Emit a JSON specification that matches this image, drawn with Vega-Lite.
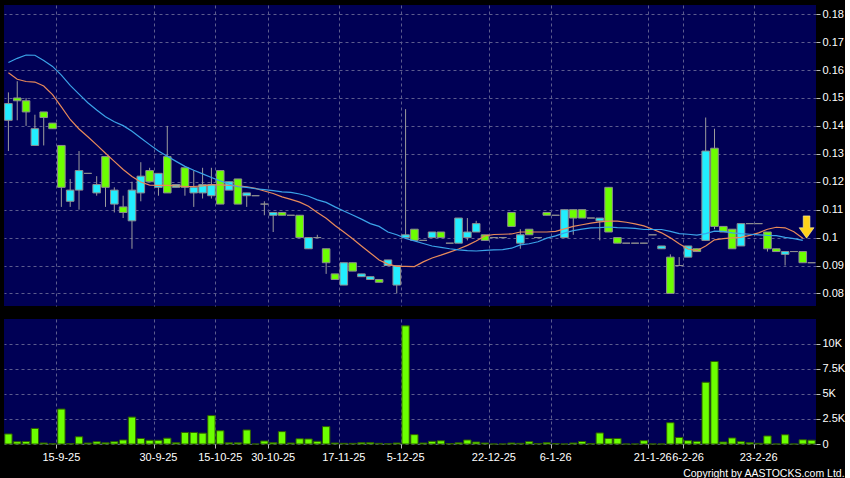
{
  "$schema": "https://vega.github.io/schema/vega-lite/v6.json",
  "background": "#000000",
  "padding": {"left": 4, "top": 5, "right": 0, "bottom": 0},
  "config": {
    "view": {"fill": "#000055", "stroke": null},
    "axis": {"labelFont": "Liberation Sans", "labelFontSize": 11, "labelColor": "#ffffff", "gridColor": "#5c5c8e", "gridDash": [3, 3], "gridWidth": 1, "domain": false, "tickColor": "#bbbbbb", "title": null, "labelOverlap": false}
  },
  "title": {"text": "Copyright by AASTOCKS.com Ltd.", "orient": "bottom", "anchor": "end", "frame": "bounds", "color": "#ffffff", "font": "Liberation Sans", "fontSize": 10.5, "fontWeight": "normal", "offset": 7},
  "data": {"values": [
    {"i":0,"d":"5-9-25","o":0.142,"h":0.152,"l":0.131,"c":0.148,"v":1000,"m1":0.1590,"m2":0.1627},
    {"i":1,"d":"8-9-25","o":0.150,"h":0.156,"l":0.142,"c":0.149,"v":233,"m1":0.1567,"m2":0.1642},
    {"i":2,"d":"9-9-25","o":0.149,"h":0.150,"l":0.140,"c":0.145,"v":250,"m1":0.1559,"m2":0.1654},
    {"i":3,"d":"10-9-25","o":0.133,"h":0.144,"l":0.133,"c":0.139,"v":1550,"m1":0.1557,"m2":0.1653},
    {"i":4,"d":"11-9-25","o":0.145,"h":0.145,"l":0.133,"c":0.143,"v":100,"m1":0.1543,"m2":0.1634},
    {"i":5,"d":"12-9-25","o":0.141,"h":0.141,"l":0.139,"c":0.139,"v":20,"m1":0.1512,"m2":0.1613},
    {"i":6,"d":"15-9-25","o":0.133,"h":0.133,"l":0.111,"c":0.118,"v":3480,"m1":0.1468,"m2":0.1582},
    {"i":7,"d":"16-9-25","o":0.113,"h":0.121,"l":0.111,"c":0.117,"v":30,"m1":0.1423,"m2":0.1545},
    {"i":8,"d":"17-9-25","o":0.117,"h":0.131,"l":0.110,"c":0.124,"v":720,"m1":0.1389,"m2":0.1514},
    {"i":9,"d":"18-9-25","o":0.123,"h":0.123,"l":0.123,"c":0.123,"v":100,"m1":0.1361,"m2":0.1483},
    {"i":10,"d":"19-9-25","o":0.116,"h":0.122,"l":0.115,"c":0.119,"v":233,"m1":0.1332,"m2":0.1457},
    {"i":11,"d":"22-9-25","o":0.129,"h":0.129,"l":0.111,"c":0.118,"v":120,"m1":0.1302,"m2":0.1433},
    {"i":12,"d":"23-9-25","o":0.112,"h":0.118,"l":0.109,"c":0.117,"v":233,"m1":0.1273,"m2":0.1415},
    {"i":13,"d":"24-9-25","o":0.111,"h":0.115,"l":0.107,"c":0.109,"v":400,"m1":0.1244,"m2":0.1401},
    {"i":14,"d":"25-9-25","o":0.106,"h":0.120,"l":0.096,"c":0.117,"v":2680,"m1":0.1219,"m2":0.1381},
    {"i":15,"d":"26-9-25","o":0.116,"h":0.127,"l":0.113,"c":0.122,"v":550,"m1":0.1199,"m2":0.1357},
    {"i":16,"d":"29-9-25","o":0.124,"h":0.125,"l":0.120,"c":0.120,"v":370,"m1":0.1188,"m2":0.1333},
    {"i":17,"d":"30-9-25","o":0.118,"h":0.123,"l":0.115,"c":0.123,"v":370,"m1":0.1187,"m2":0.1310},
    {"i":18,"d":"2-10-25","o":0.129,"h":0.140,"l":0.116,"c":0.116,"v":580,"m1":0.1187,"m2":0.1291},
    {"i":19,"d":"3-10-25","o":0.118,"h":0.119,"l":0.118,"c":0.119,"v":130,"m1":0.1185,"m2":0.1273},
    {"i":20,"d":"6-10-25","o":0.125,"h":0.125,"l":0.115,"c":0.118,"v":1150,"m1":0.1183,"m2":0.1255},
    {"i":21,"d":"8-10-25","o":0.116,"h":0.124,"l":0.111,"c":0.118,"v":1150,"m1":0.1183,"m2":0.1241},
    {"i":22,"d":"9-10-25","o":0.116,"h":0.125,"l":0.114,"c":0.119,"v":1080,"m1":0.1185,"m2":0.1228},
    {"i":23,"d":"13-10-25","o":0.115,"h":0.125,"l":0.114,"c":0.119,"v":2830,"m1":0.1189,"m2":0.1215},
    {"i":24,"d":"15-10-25","o":0.124,"h":0.124,"l":0.112,"c":0.112,"v":1320,"m1":0.1189,"m2":0.1203},
    {"i":25,"d":"17-10-25","o":0.117,"h":0.120,"l":0.117,"c":0.120,"v":120,"m1":0.1187,"m2":0.1192},
    {"i":26,"d":"20-10-25","o":0.121,"h":0.121,"l":0.112,"c":0.112,"v":120,"m1":0.1185,"m2":0.1182},
    {"i":27,"d":"22-10-25","o":0.115,"h":0.116,"l":0.111,"c":0.116,"v":1400,"m1":0.1182,"m2":0.1180},
    {"i":28,"d":"24-10-25","o":0.115,"h":0.115,"l":0.115,"c":0.115,"v":0,"m1":0.1176,"m2":0.1175},
    {"i":29,"d":"28-10-25","o":0.112,"h":0.113,"l":0.108,"c":0.112,"v":300,"m1":0.1167,"m2":0.1172},
    {"i":30,"d":"30-10-25","o":0.108,"h":0.109,"l":0.102,"c":0.109,"v":130,"m1":0.1158,"m2":0.1168},
    {"i":31,"d":"31-10-25","o":0.109,"h":0.109,"l":0.108,"c":0.108,"v":1233,"m1":0.1146,"m2":0.1164},
    {"i":32,"d":"3-11-25","o":0.108,"h":0.108,"l":0.108,"c":0.108,"v":100,"m1":0.1137,"m2":0.1162},
    {"i":33,"d":"5-11-25","o":0.108,"h":0.108,"l":0.100,"c":0.100,"v":520,"m1":0.1127,"m2":0.1156},
    {"i":34,"d":"7-11-25","o":0.096,"h":0.100,"l":0.096,"c":0.100,"v":500,"m1":0.1112,"m2":0.1148},
    {"i":35,"d":"10-11-25","o":0.100,"h":0.101,"l":0.100,"c":0.100,"v":267,"m1":0.1090,"m2":0.1135},
    {"i":36,"d":"12-11-25","o":0.096,"h":0.096,"l":0.087,"c":0.091,"v":1733,"m1":0.1069,"m2":0.1126},
    {"i":37,"d":"14-11-25","o":0.087,"h":0.087,"l":0.085,"c":0.085,"v":100,"m1":0.1043,"m2":0.1110},
    {"i":38,"d":"17-11-25","o":0.083,"h":0.091,"l":0.083,"c":0.091,"v":67,"m1":0.1020,"m2":0.1095},
    {"i":39,"d":"19-11-25","o":0.091,"h":0.091,"l":0.088,"c":0.088,"v":67,"m1":0.0996,"m2":0.1081},
    {"i":40,"d":"21-11-25","o":0.086,"h":0.087,"l":0.086,"c":0.087,"v":133,"m1":0.0970,"m2":0.1066},
    {"i":41,"d":"25-11-25","o":0.085,"h":0.086,"l":0.085,"c":0.086,"v":133,"m1":0.0945,"m2":0.1050},
    {"i":42,"d":"27-11-25","o":0.085,"h":0.085,"l":0.084,"c":0.084,"v":67,"m1":0.0920,"m2":0.1040},
    {"i":43,"d":"1-12-25","o":0.090,"h":0.092,"l":0.090,"c":0.092,"v":20,"m1":0.0905,"m2":0.1020},
    {"i":44,"d":"3-12-25","o":0.083,"h":0.090,"l":0.080,"c":0.090,"v":100,"m1":0.0897,"m2":0.1010},
    {"i":45,"d":"5-12-25","o":0.100,"h":0.146,"l":0.100,"c":0.101,"v":11767,"m1":0.0897,"m2":0.0997},
    {"i":46,"d":"8-12-25","o":0.103,"h":0.103,"l":0.099,"c":0.099,"v":933,"m1":0.0896,"m2":0.0988},
    {"i":47,"d":"9-12-25","o":0.099,"h":0.099,"l":0.099,"c":0.099,"v":100,"m1":0.0913,"m2":0.0979},
    {"i":48,"d":"10-12-25","o":0.100,"h":0.102,"l":0.100,"c":0.102,"v":267,"m1":0.0927,"m2":0.0970},
    {"i":49,"d":"11-12-25","o":0.102,"h":0.102,"l":0.100,"c":0.100,"v":320,"m1":0.0937,"m2":0.0965},
    {"i":50,"d":"12-12-25","o":0.098,"h":0.098,"l":0.098,"c":0.098,"v":50,"m1":0.0948,"m2":0.0960},
    {"i":51,"d":"15-12-25","o":0.098,"h":0.107,"l":0.098,"c":0.107,"v":120,"m1":0.0959,"m2":0.0956},
    {"i":52,"d":"16-12-25","o":0.100,"h":0.107,"l":0.099,"c":0.102,"v":400,"m1":0.0972,"m2":0.0953},
    {"i":53,"d":"17-12-25","o":0.102,"h":0.106,"l":0.102,"c":0.105,"v":200,"m1":0.0988,"m2":0.0952},
    {"i":54,"d":"19-12-25","o":0.101,"h":0.101,"l":0.099,"c":0.099,"v":100,"m1":0.1006,"m2":0.0954},
    {"i":55,"d":"22-12-25","o":0.100,"h":0.100,"l":0.100,"c":0.100,"v":0,"m1":0.1011,"m2":0.0956},
    {"i":56,"d":"23-12-25","o":0.100,"h":0.100,"l":0.100,"c":0.100,"v":0,"m1":0.1012,"m2":0.0957},
    {"i":57,"d":"24-12-25","o":0.109,"h":0.109,"l":0.104,"c":0.104,"v":100,"m1":0.1013,"m2":0.0962},
    {"i":58,"d":"29-12-25","o":0.098,"h":0.103,"l":0.096,"c":0.101,"v":67,"m1":0.1020,"m2":0.0974},
    {"i":59,"d":"30-12-25","o":0.103,"h":0.103,"l":0.101,"c":0.101,"v":233,"m1":0.1020,"m2":0.0978},
    {"i":60,"d":"31-12-25","o":0.100,"h":0.100,"l":0.100,"c":0.100,"v":50,"m1":0.1020,"m2":0.0985},
    {"i":61,"d":"2-1-26","o":0.109,"h":0.109,"l":0.108,"c":0.108,"v":133,"m1":0.1020,"m2":0.0998},
    {"i":62,"d":"6-1-26","o":0.108,"h":0.108,"l":0.108,"c":0.108,"v":50,"m1":0.1022,"m2":0.1006},
    {"i":63,"d":"7-1-26","o":0.100,"h":0.110,"l":0.100,"c":0.110,"v":0,"m1":0.1031,"m2":0.1017},
    {"i":64,"d":"8-1-26","o":0.110,"h":0.110,"l":0.101,"c":0.107,"v":100,"m1":0.1040,"m2":0.1025},
    {"i":65,"d":"9-1-26","o":0.110,"h":0.110,"l":0.107,"c":0.107,"v":250,"m1":0.1046,"m2":0.1030},
    {"i":66,"d":"12-1-26","o":0.107,"h":0.107,"l":0.107,"c":0.107,"v":33,"m1":0.1052,"m2":0.1035},
    {"i":67,"d":"13-1-26","o":0.106,"h":0.107,"l":0.099,"c":0.107,"v":1100,"m1":0.1056,"m2":0.1036},
    {"i":68,"d":"14-1-26","o":0.118,"h":0.118,"l":0.102,"c":0.102,"v":550,"m1":0.1059,"m2":0.1038},
    {"i":69,"d":"15-1-26","o":0.100,"h":0.100,"l":0.098,"c":0.098,"v":550,"m1":0.1059,"m2":0.1036},
    {"i":70,"d":"16-1-26","o":0.098,"h":0.098,"l":0.098,"c":0.098,"v":0,"m1":0.1055,"m2":0.1035},
    {"i":71,"d":"19-1-26","o":0.098,"h":0.098,"l":0.098,"c":0.098,"v":0,"m1":0.1049,"m2":0.1033},
    {"i":72,"d":"20-1-26","o":0.098,"h":0.098,"l":0.098,"c":0.098,"v":333,"m1":0.1042,"m2":0.1029},
    {"i":73,"d":"21-1-26","o":0.101,"h":0.101,"l":0.101,"c":0.101,"v":0,"m1":0.1030,"m2":0.1029},
    {"i":74,"d":"23-1-26","o":0.096,"h":0.097,"l":0.096,"c":0.097,"v":0,"m1":0.1017,"m2":0.1029},
    {"i":75,"d":"28-1-26","o":0.093,"h":0.094,"l":0.080,"c":0.080,"v":2120,"m1":0.0999,"m2":0.1022},
    {"i":76,"d":"3-2-26","o":0.090,"h":0.093,"l":0.090,"c":0.090,"v":650,"m1":0.0978,"m2":0.1014},
    {"i":77,"d":"6-2-26","o":0.093,"h":0.097,"l":0.093,"c":0.097,"v":333,"m1":0.0959,"m2":0.1012},
    {"i":78,"d":"9-2-26","o":0.096,"h":0.096,"l":0.095,"c":0.095,"v":267,"m1":0.0953,"m2":0.1009},
    {"i":79,"d":"10-2-26","o":0.099,"h":0.143,"l":0.099,"c":0.131,"v":6150,"m1":0.0970,"m2":0.1014},
    {"i":80,"d":"11-2-26","o":0.132,"h":0.139,"l":0.103,"c":0.104,"v":8220,"m1":0.0992,"m2":0.1023},
    {"i":81,"d":"12-2-26","o":0.104,"h":0.104,"l":0.102,"c":0.102,"v":200,"m1":0.0996,"m2":0.1022},
    {"i":82,"d":"13-2-26","o":0.103,"h":0.103,"l":0.096,"c":0.096,"v":600,"m1":0.0999,"m2":0.1017},
    {"i":83,"d":"16-2-26","o":0.097,"h":0.105,"l":0.097,"c":0.105,"v":233,"m1":0.1001,"m2":0.1014},
    {"i":84,"d":"20-2-26","o":0.105,"h":0.105,"l":0.105,"c":0.105,"v":133,"m1":0.1008,"m2":0.1012},
    {"i":85,"d":"23-2-26","o":0.105,"h":0.105,"l":0.105,"c":0.105,"v":67,"m1":0.1017,"m2":0.1010},
    {"i":86,"d":"24-2-26","o":0.102,"h":0.102,"l":0.095,"c":0.096,"v":800,"m1":0.1030,"m2":0.1008},
    {"i":87,"d":"25-2-26","o":0.096,"h":0.096,"l":0.095,"c":0.095,"v":0,"m1":0.1037,"m2":0.1007},
    {"i":88,"d":"26-2-26","o":0.094,"h":0.095,"l":0.090,"c":0.095,"v":920,"m1":0.1035,"m2":0.1001},
    {"i":89,"d":"27-2-26","o":0.095,"h":0.095,"l":0.095,"c":0.095,"v":0,"m1":0.1021,"m2":0.0996},
    {"i":90,"d":"2-3-26","o":0.095,"h":0.095,"l":0.091,"c":0.091,"v":420,"m1":0.0998,"m2":0.0990},
    {"i":91,"d":"3-3-26","o":0.091,"h":0.091,"l":0.091,"c":0.091,"v":380,"a":0.0998}
  ]},
  "spacing": 13,
  "vconcat": [
    {
      "width": 812,
      "height": 301,
      "encoding": {
        "x": {"field": "d", "type": "ordinal", "sort": {"field": "i", "op": "min"},
          "scale": {"paddingInner": 0, "paddingOuter": 0},
          "axis": {"values": ["15-9-25","30-9-25","15-10-25","30-10-25","17-11-25","5-12-25","22-12-25","6-1-26","21-1-26","6-2-26","23-2-26"], "bandPosition": 0, "labels": false, "ticks": false, "grid": true, "domain": false}}
      },
      "layer": [
        {
          "mark": {"type": "rule", "color": "#9c9c9c", "strokeWidth": 1},
          "encoding": {
            "y": {"field": "l", "type": "quantitative",
              "scale": {"domain": [0.0755, 0.1833], "nice": false, "zero": false},
              "axis": {"orient": "right", "values": [0.08,0.09,0.1,0.11,0.12,0.13,0.14,0.15,0.16,0.17,0.18], "format": ".2~f", "grid": true, "tickSize": 4, "labelPadding": 2, "labelOverlap": false}},
            "y2": {"field": "h"}
          }
        },
        {
          "mark": {"type": "bar", "width": {"band": 0.86}, "stroke": "#8e8e8e", "strokeWidth": 1},
          "encoding": {
            "y": {"field": "o", "type": "quantitative",
              "axis": {"orient": "right", "values": [0.08,0.09,0.1,0.11,0.12,0.13,0.14,0.15,0.16,0.17,0.18], "format": ".2~f", "grid": true, "tickSize": 4, "labelPadding": 2, "labelOverlap": false}},
            "y2": {"field": "c"},
            "fill": {"condition": {"test": "datum.c > datum.o", "value": "#22EEFF"}, "value": "#6CFF00"}
          }
        },
        {
          "mark": {"type": "line", "color": "#E88A5A", "strokeWidth": 1.2},
          "encoding": {"y": {"field": "m1", "type": "quantitative",
              "axis": {"orient": "right", "values": [0.08,0.09,0.1,0.11,0.12,0.13,0.14,0.15,0.16,0.17,0.18], "format": ".2~f", "grid": true, "tickSize": 4, "labelPadding": 2, "labelOverlap": false}}}
        },
        {
          "mark": {"type": "line", "color": "#3BA3E8", "strokeWidth": 1.2},
          "encoding": {"y": {"field": "m2", "type": "quantitative",
              "axis": {"orient": "right", "values": [0.08,0.09,0.1,0.11,0.12,0.13,0.14,0.15,0.16,0.17,0.18], "format": ".2~f", "grid": true, "tickSize": 4, "labelPadding": 2, "labelOverlap": false}}}
        },
        {
          "mark": {"type": "point", "shape": "M-0.45,-3 L0.45,-3 L0.45,-1.4 L1,-1.4 L0,0 L-1,-1.4 L-0.45,-1.4 Z", "size": 220, "filled": true, "fill": "#FFD21A", "stroke": "#FFF3A8", "strokeWidth": 0.6, "opacity": 1, "xOffset": -5},
          "encoding": {"y": {"field": "a", "type": "quantitative",
              "axis": {"orient": "right", "values": [0.08,0.09,0.1,0.11,0.12,0.13,0.14,0.15,0.16,0.17,0.18], "format": ".2~f", "grid": true, "tickSize": 4, "labelPadding": 2, "labelOverlap": false}}}
        }
      ]
    },
    {
      "width": 812,
      "height": 125,
      "layer": [
        {
          "mark": {"type": "bar", "width": {"band": 0.83}, "fill": "#6CFF00", "stroke": "#2E5E00", "strokeWidth": 1},
          "encoding": {
            "x": {"field": "d", "type": "ordinal", "sort": {"field": "i", "op": "min"},
              "scale": {"paddingInner": 0, "paddingOuter": 0},
              "axis": {"values": ["15-9-25","30-9-25","15-10-25","30-10-25","17-11-25","5-12-25","22-12-25","6-1-26","21-1-26","6-2-26","23-2-26"], "bandPosition": 0, "labelAngle": 0, "labelOverlap": false, "labelFlush": false, "labelBound": false, "tickSize": 4, "labelPadding": 3, "grid": true, "domain": false}},
            "y": {"field": "v", "type": "quantitative",
              "scale": {"domain": [0, 12450], "nice": false},
              "axis": {"orient": "right", "values": [0, 2500, 5000, 7500, 10000], "labelExpr": "datum.value == 0 ? '0' : format(datum.value / 1000, '~g') + 'K'", "grid": true, "tickSize": 4, "labelPadding": 2, "labelOverlap": false}}
          }
        }
      ]
    }
  ]
}
